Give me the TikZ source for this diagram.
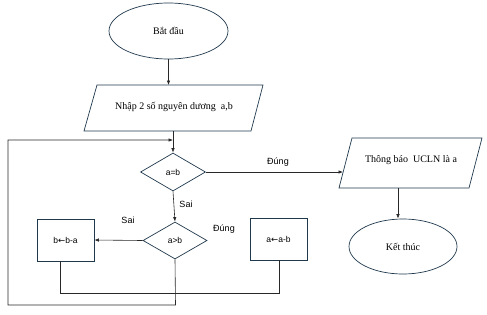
\documentclass[tikz,border=0pt]{standalone}
\usepackage{fontspec}
\setmainfont{Liberation Serif}
\setsansfont{Liberation Sans}
\newfontfamily\arrowfont{DejaVu Sans}
\usetikzlibrary{shapes.geometric,arrows.meta}
\definecolor{shapeln}{RGB}{32,56,76}
\definecolor{connln}{RGB}{40,40,40}
\tikzset{
  term/.style={ellipse,draw=shapeln,line width=0.7pt,inner sep=0pt,font=\fontsize{10}{12}\selectfont},
  ptxt/.style={inner sep=0pt,font=\fontsize{10}{12}\selectfont},
  para/.style={draw=shapeln,line width=0.7pt},
  dec/.style={diamond,draw=shapeln,line width=0.7pt,inner sep=0pt,font=\sffamily\fontsize{8.5}{10}\selectfont},
  proc/.style={rectangle,draw=shapeln,line width=0.7pt,inner sep=0pt,minimum width=57pt,minimum height=42pt,font=\sffamily\fontsize{8.5}{10}\selectfont},
  lbl/.style={inner sep=0pt,font=\sffamily\fontsize{9}{11}\selectfont},
  conn/.style={draw=connln,line width=0.6pt},
  arr/.style={conn,-{Latex[length=4.5pt,width=3.5pt]}}
}
\begin{document}
\begin{tikzpicture}[x=1pt,y=-1pt]
\useasboundingbox (0,0) rectangle (487,314);
% terminals
\node[term,minimum width=119pt,minimum height=56pt] (start) at (168.5,31) {Bắt đầu};
\node[term,minimum width=108pt,minimum height=55pt] (end) at (403,246.5) {Kết thúc};
% input parallelogram
\draw[para] (97,85) -- (263,85) -- (251,131) -- (84,131) -- cycle;
\node[ptxt] (in) at (174,107) {Nhập 2 số nguyên dương\ \ a,b};
\coordinate (inTop) at (168.5,85);
\coordinate (inBot) at (173,131);
% output parallelogram
\draw[para] (352,138) -- (482,138) -- (469,188) -- (339,188) -- cycle;
\node[ptxt] (out) at (411,160) {Thông báo\ \ UCLN là a};
\coordinate (outLeft) at (343,173);
\coordinate (outBot) at (398,188);
% decisions
\node[dec,minimum width=65pt,minimum height=38pt] (eq) at (173,172) {a=b};
\node[dec,minimum width=64pt,minimum height=37pt] (gt) at (175,240.5) {a>b};
% processes
\node[proc] (bbox) at (65.5,240) {b{\arrowfont ←}b-a};
\node[proc] (abox) at (278.5,239) {a{\arrowfont ←}a-b};
% labels
\node[lbl] (l1) at (278,162) {Đúng};
\node[lbl] (l2) at (186,204) {Sai};
\node[lbl] (l3) at (128,220) {Sai};
\node[lbl] (l4) at (224,229) {Đúng};
% connectors
\draw[arr] (start.south) -- (inTop);
\coordinate (join) at (173,140);
\draw[conn] (inBot) -- (join);
\draw[arr] (join) -- (eq.north);
\draw[arr] (eq.east) -- (outLeft |- eq.east);
\draw[arr] (eq.south) -- (gt.north);
\draw[arr] (gt.west) -- (bbox.east);
\draw[arr] (outBot) -- (outBot |- end.north);
\coordinate (bb) at (60,293);
\coordinate (ab) at (279,293);
\draw[conn] ([xshift=-5.5pt]bbox.south) -- (bb) -- (ab) -- (ab |- abox.south);
\coordinate (lp1) at (175.5,305);
\coordinate (lp2) at (8,305);
\coordinate (lp3) at (8,140);
\draw[arr] (gt.south) -- (lp1) -- (lp2) -- (lp3) -- (join);
\end{tikzpicture}
\end{document}
